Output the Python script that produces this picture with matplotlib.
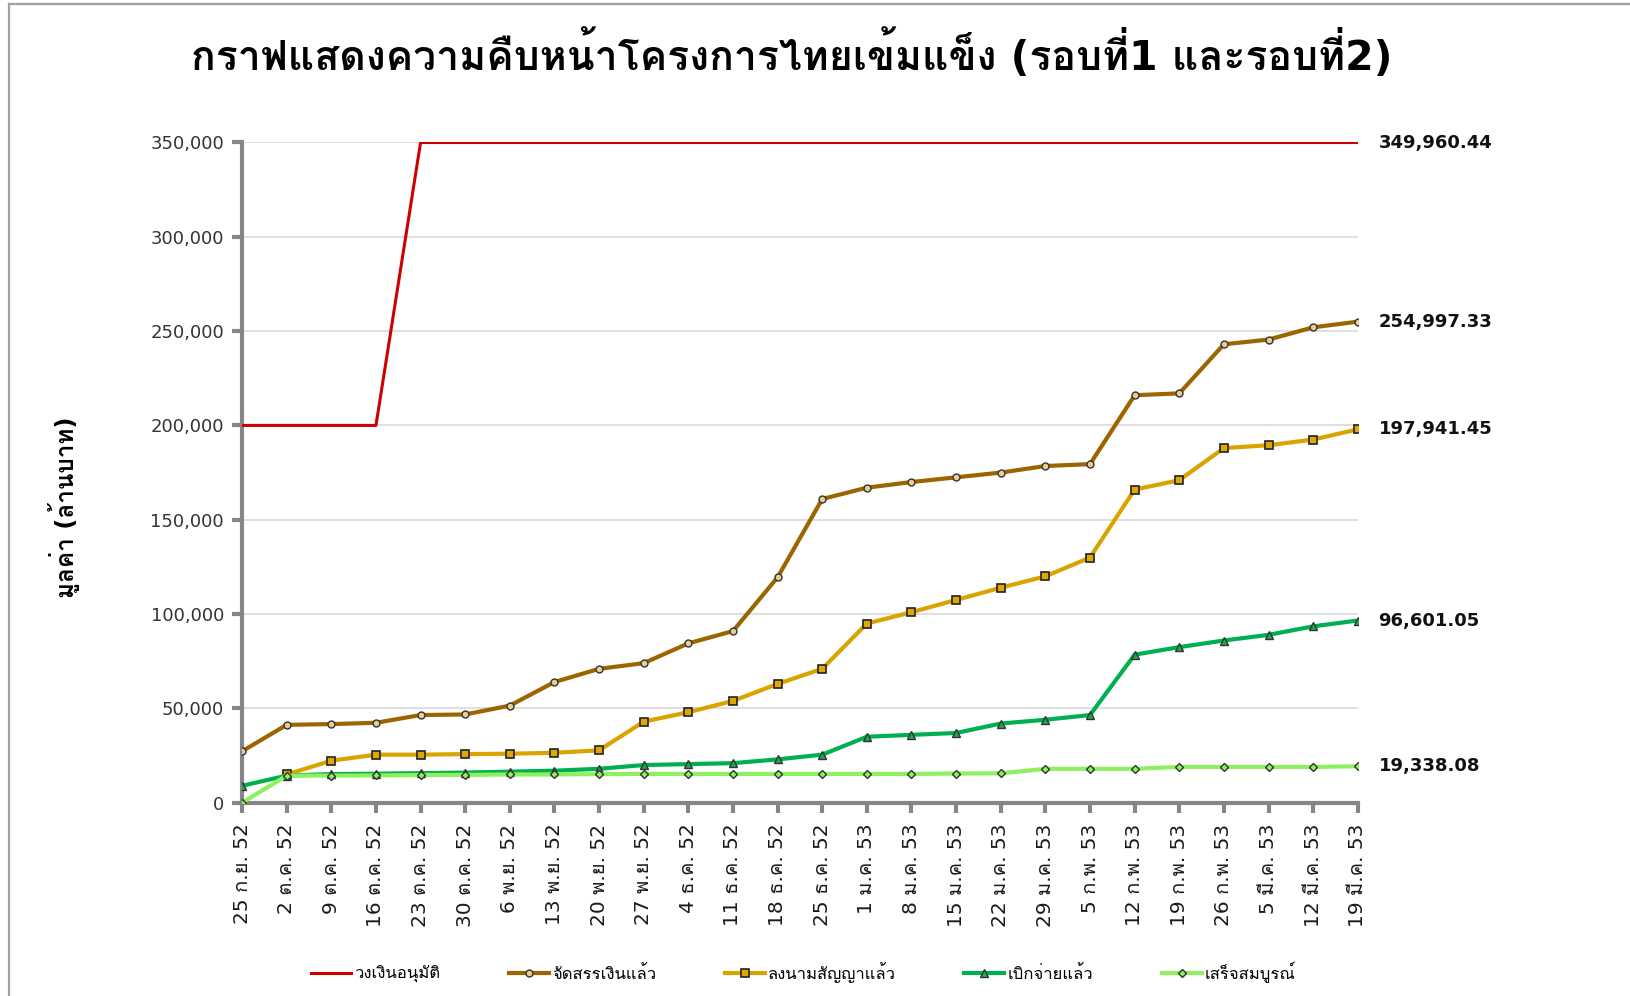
import matplotlib
matplotlib.use('Agg')
import matplotlib.pyplot as plt
from matplotlib import font_manager
from matplotlib.lines import Line2D
from matplotlib.ticker import FuncFormatter
import numpy as np

# ---- data ----
dates = ['25 ก.ย. 52', '2 ต.ค. 52', '9 ต.ค. 52', '16 ต.ค. 52', '23 ต.ค. 52', '30 ต.ค. 52',
         '6 พ.ย. 52', '13 พ.ย. 52', '20 พ.ย. 52', '27 พ.ย. 52', '4 ธ.ค. 52', '11 ธ.ค. 52',
         '18 ธ.ค. 52', '25 ธ.ค. 52', '1 ม.ค. 53', '8 ม.ค. 53', '15 ม.ค. 53', '22 ม.ค. 53',
         '29 ม.ค. 53', '5 ก.พ. 53', '12 ก.พ. 53', '19 ก.พ. 53', '26 ก.พ. 53', '5 มี.ค. 53',
         '12 มี.ค. 53', '19 มี.ค. 53']

approved = [200000, 200000, 200000, 200000] + [349960.44] * 22
allocated = [27300, 41300, 41700, 42400, 46500, 46800, 51500, 64000, 71000, 74000, 84500, 91000,
             119500, 161000, 167000, 170000, 172500, 175000, 178500, 179500, 216000, 217000,
             243000, 245500, 252000, 254997.33]
signed = [np.nan, 15000, 22300, 25500, 25500, 25800, 26000, 26500, 27800, 43000, 48000, 54000,
          63000, 71000, 95000, 101000, 107500, 114000, 120000, 130000, 166000, 171000,
          188000, 189500, 192500, 197941.45]
disbursed = [9000, 14400, 15200, 15400, 15700, 16000, 16500, 17000, 18000, 20000, 20500, 21000,
             23000, 25500, 35000, 36000, 37000, 42000, 44000, 46500, 78500, 82500,
             86000, 89000, 93500, 96601.05]
completed = [0, 14400, 14400, 14500, 14700, 14800, 15000, 15000, 15200, 15300, 15300, 15300,
             15300, 15300, 15300, 15300, 15500, 15600, 18000, 18000, 18000, 19000,
             19000, 19000, 19000, 19338.08]

series_names = ['วงเงินอนุมัติ', 'จัดสรรเงินแล้ว', 'ลงนามสัญญาแล้ว', 'เบิกจ่ายแล้ว', 'เสร็จสมบูรณ์']
end_labels = ['349,960.44', '254,997.33', '197,941.45', '96,601.05', '19,338.08']

# looped Thai face with a bold cut, closest to the Tahoma look of the original
prefs = ['Loma', 'Sarabun', 'Noto Serif Thai', 'Noto Sans Thai Looped', 'Noto Sans Thai']
bold_names = {f.name for f in font_manager.fontManager.ttflist
              if isinstance(f.weight, int) and f.weight >= 600 or f.weight == 'bold'}
installed = {f.name for f in font_manager.fontManager.ttflist}
thai = [n for n in prefs if n in bold_names] + [n for n in prefs if n in installed]
plt.rcParams['font.family'] = ['DejaVu Sans'] + thai[:1]

fig = plt.figure(figsize=(16.3, 9.96), dpi=100)
ax = fig.add_axes([0.1485, 0.194, 0.6845, 0.663])

x = np.arange(len(dates))
ax.plot(x, approved, color='#CC0000', lw=2.2, label=series_names[0], zorder=3)
ax.plot(x, allocated, color='#9C6500', lw=3, marker='o', ms=5, mfc='#E8CC90', mec='#333333',
        mew=1, label=series_names[1], zorder=3)
ax.plot(x, signed, color='#D9A400', lw=3, marker='s', ms=5.5, mfc='#E0A800', mec='#222222',
        mew=1.2, label=series_names[2], zorder=3)
ax.plot(x, disbursed, color='#00B050', lw=3, marker='^', ms=6, mfc='#1EA850', mec='#333333',
        mew=1, label=series_names[3], zorder=3)
ax.plot(x, completed, color='#8EF060', lw=3, marker='D', ms=4.5, mfc='#8EF060', mec='#333333',
        mew=1, label=series_names[4], zorder=3)

finals = [approved[-1], allocated[-1], signed[-1], disbursed[-1], completed[-1]]
for val, txt in zip(finals, end_labels):
    ax.annotate(txt, (x[-1], val), xytext=(15, 0), textcoords='offset points',
                ha='left', va='center', fontsize=13, fontweight='bold', color='#111111',
                annotation_clip=False)

ax.set_xlim(0, len(dates) - 1)
ax.set_ylim(0, 350000)
ax.set_yticks(np.arange(0, 350001, 50000))
ax.yaxis.set_major_formatter(FuncFormatter(lambda v, p: f'{int(v):,}'))
ax.set_xticks(x)
ax.set_xticklabels(dates, rotation=90, fontsize=14.5, color='#1a1a1a')
ax.tick_params(axis='y', labelsize=13, labelcolor='#333333', length=7, width=3,
               color='#868686', pad=6, direction='out')
ax.tick_params(axis='x', length=7, width=3, color='#868686', pad=8, direction='out')

for s in ['top', 'right']:
    ax.spines[s].set_visible(False)
for s in ['left', 'bottom']:
    ax.spines[s].set_color('#868686')
    ax.spines[s].set_linewidth(3)
ax.grid(axis='y', color='#D9D9D9', lw=1.2)
ax.set_axisbelow(True)

ax.set_ylabel('มูลค่า (ล้านบาท)', fontsize=17.5, fontweight='bold')
ax.yaxis.set_label_coords(-0.145, 0.447)

fig.text(0.486, 0.946, 'กราฟแสดงความคืบหน้าโครงการไทยเข้มแข็ง (รอบที่1 และรอบที่2)',
         ha='center', va='center', fontsize=29.5, fontweight='bold')

leg = fig.legend(loc='center', bbox_to_anchor=(0.493, 0.024), ncol=5, frameon=False,
                 fontsize=12, handlelength=2.4, columnspacing=4.1, handletextpad=0.2)

# thin frame like the pasted chart border
fig.add_artist(Line2D([9 / 1630, 1.0], [1 - 4 / 996, 1 - 4 / 996], color='#A0A0A0', lw=1.6))
fig.add_artist(Line2D([9 / 1630, 9 / 1630], [0, 1 - 4 / 996], color='#A0A0A0', lw=1.6))

fig.savefig('out.png', dpi=100)
